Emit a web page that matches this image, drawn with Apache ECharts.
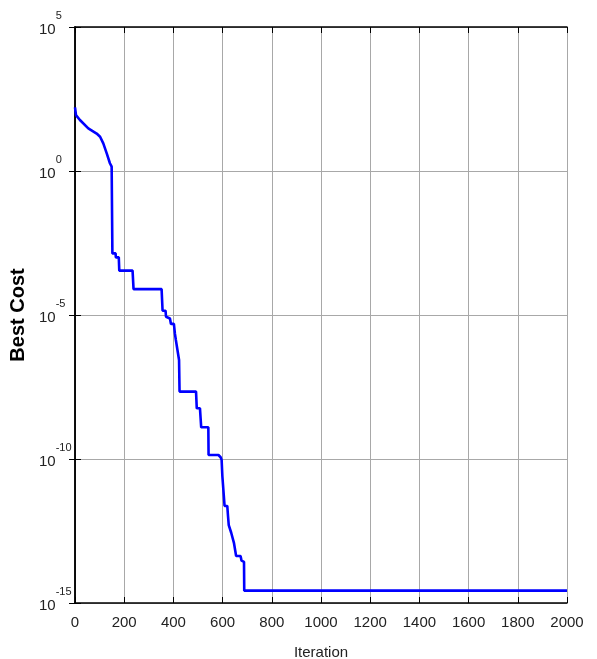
<!DOCTYPE html>
<html>
<head>
<meta charset="utf-8">
<style>html,body{margin:0;padding:0;background:#fff;}#c{width:597px;height:659px;}</style>
<script src="https://cdn.jsdelivr.net/npm/echarts@6/dist/echarts.min.js"></script>
</head>
<body>
<div id="c"></div>
<script>
const iterations = [0,4,20,54,88,102,115,129,142,149,152,156,165,166,178,180,234,238,352,356,368,370,375,386,390,402,406,410,418,423,425,492,495,508,513,542,543,583,592,596,599,606,608,619,622,625,633,635,643,646,654,655,673,677,687,688,2000];
const bestCost = [162,87,59,30,20,15.5,9.1,4.1,1.86,1.41,1.38e-3,1.38e-3,1.38e-3,1.0e-3,1.0e-3,3.47e-4,3.47e-4,7.94e-5,7.94e-5,1.41e-5,1.41e-5,8.7e-6,7.6e-6,7.6e-6,4.9e-6,4.9e-6,2.3e-6,1.35e-6,1.29e-6,2.75e-7,2.19e-8,2.19e-8,5.75e-9,5.75e-9,1.26e-9,1.26e-9,1.38e-10,1.38e-10,1.15e-10,9.3e-11,2.57e-11,2.57e-11,2.34e-12,2.34e-12,1.05e-12,5.1e-13,4.7e-13,2.75e-13,2.75e-13,1.23e-13,1.17e-13,4.27e-14,4.27e-14,2.95e-14,2.69e-14,2.69e-15,2.69e-15];
const xTicks = [0,200,400,600,800,1000,1200,1400,1600,1800,2000];
const yTickExponents = [-15,-10,-5,0,5];

const FONT = 'Liberation Sans, Arial, sans-serif';
const chart = echarts.init(document.getElementById('c'));
const data = iterations.map((x, i) => [x, bestCost[i]]);
const axisLine = {show: true, lineStyle: {color: '#000', width: 1.5}};
const grid = {show: true, lineStyle: {color: '#a8a8a8', width: 1}};
chart.setOption({
  animation: false,
  grid: {left: 75, right: 30, top: 27, bottom: 56, containLabel: false, outerBoundsMode: 'none'},
  xAxis: [{
    type: 'value', min: 0, max: 2000, interval: 200,
    axisLine: axisLine,
    axisTick: {show: true, inside: true, length: 6, lineStyle: {color: '#000'}},
    axisLabel: {fontFamily: FONT, fontSize: 15, color: '#222', margin: 12,
      formatter: v => xTicks.indexOf(v) >= 0 ? String(v) : ''},
    splitLine: grid,
    name: 'Iteration', nameLocation: 'middle', nameGap: 42,
    nameTextStyle: {fontFamily: FONT, fontSize: 15, color: '#222'}
  }, {
    type: 'value', min: 0, max: 2000, interval: 200, position: 'top',
    axisLine: axisLine,
    axisTick: {show: true, inside: true, length: 6, lineStyle: {color: '#000'}},
    axisLabel: {show: false}, splitLine: {show: false}
  }],
  yAxis: [{
    type: 'log', logBase: 10, min: 1e-15, max: 1e5, interval: 5,
    axisLine: axisLine,
    axisTick: {show: true, inside: true, length: 6, lineStyle: {color: '#000'}},
    splitLine: grid,
    axisLabel: {
      margin: 36, align: 'left', padding: [0, 0, 7, 0],
      formatter: v => {
        const e = Math.round(Math.log10(v));
        return yTickExponents.indexOf(e) >= 0 ? '{b|10}{e|' + e + '}' : '';
      },
      rich: {
        b: {fontFamily: FONT, fontSize: 15, color: '#222', verticalAlign: 'bottom', padding: [12, 0, 0, 0]},
        e: {fontFamily: FONT, fontSize: 11, color: '#222', verticalAlign: 'top', padding: [0, 0, 16, 0]}
      }
    },
    name: 'Best Cost', nameLocation: 'middle', nameGap: 33,
    nameTextStyle: {fontFamily: FONT, fontSize: 20, fontWeight: 'bold', color: '#000'}
  }, {
    type: 'log', logBase: 10, min: 1e-15, max: 1e5, interval: 5, position: 'right',
    axisLine: axisLine,
    axisTick: {show: true, inside: true, length: 6, lineStyle: {color: '#000'}},
    axisLabel: {show: false}, splitLine: {show: false}
  }],
  series: [{
    type: 'line', data: data, showSymbol: false, symbol: 'none',
    lineStyle: {color: '#0000ff', width: 2.6}, xAxisIndex: 0, yAxisIndex: 0
  }]
});
</script>
</body>
</html>
